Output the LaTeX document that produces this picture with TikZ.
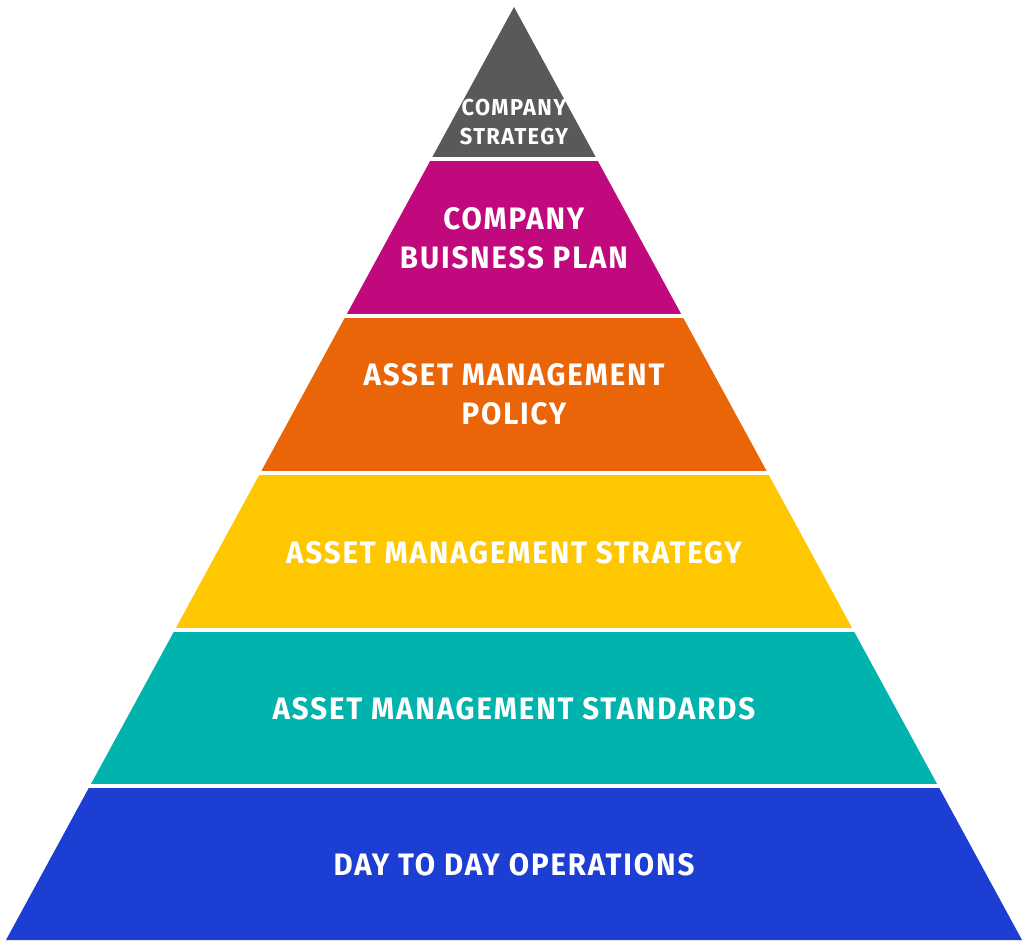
\documentclass[tikz,border=0pt]{standalone}
\usepackage{fontspec}
\setmainfont{Fira Sans}[FakeStretch=0.95,LetterSpace=6]
\definecolor{topgray}{HTML}{595959}
\definecolor{planmag}{HTML}{C0097D}
\definecolor{policyorange}{HTML}{EA6508}
\definecolor{stratyellow}{HTML}{FFC700}
\definecolor{standteal}{HTML}{00B4AD}
\definecolor{opsblue}{HTML}{1D3ED2}
\tikzset{
  lbl/.style={text=white, align=center, font=\bfseries\fontsize{31}{39}\selectfont},
  smalllbl/.style={lbl, font=\bfseries\fontsize{23}{29}\selectfont}
}
\begin{document}
\begin{tikzpicture}[x=1pt,y=-1pt]
\useasboundingbox (0,0) rectangle (1029,943);

\coordinate (apex) at (514,7);
\coordinate (left) at (6,940);
\coordinate (right) at (1022,940);

\begin{scope}
\clip (apex) -- (left) -- (right) -- cycle;
\fill[topgray] (0,0) rectangle (1029,157);
\fill[planmag] (0,161) rectangle (1029,314);
\fill[policyorange] (0,318) rectangle (1029,471);
\fill[stratyellow] (0,475) rectangle (1029,628);
\fill[standteal] (0,632) rectangle (1029,784);
\fill[opsblue] (0,788) rectangle (1029,943);
\end{scope}

\node[smalllbl] (strategy) at (514,122) {COMPANY\\STRATEGY};
\node[lbl] (plan) at (514,238) {COMPANY\\BUISNESS PLAN};
\node[lbl] (policy) at (514,394) {ASSET MANAGEMENT\\POLICY};
\node[lbl] (amstrategy) at (514,553) {ASSET MANAGEMENT STRATEGY};
\node[lbl] (standards) at (514,709) {ASSET MANAGEMENT STANDARDS};
\node[lbl] (operations) at (514,865) {DAY TO DAY OPERATIONS};
\end{tikzpicture}
\end{document}
